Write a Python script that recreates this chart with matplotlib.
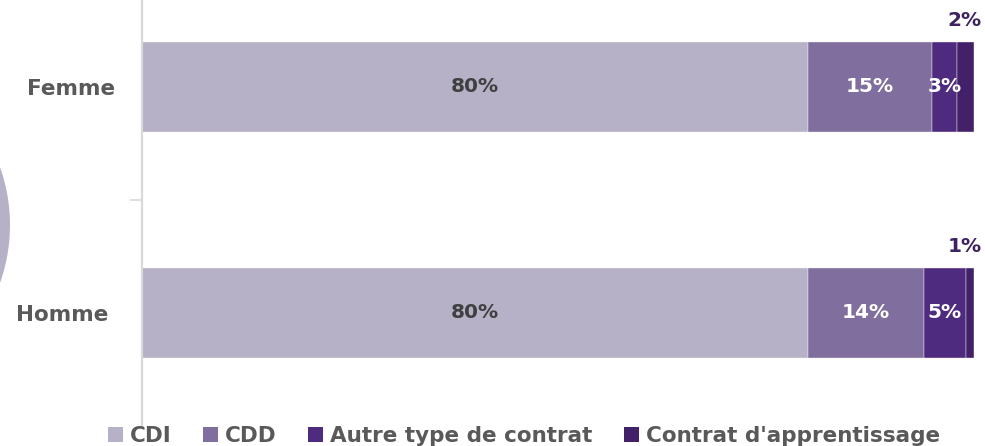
import matplotlib
matplotlib.use("Agg")
import matplotlib.pyplot as plt
from matplotlib.patches import Patch, Circle
from matplotlib.transforms import ScaledTranslation

# ---- data ----
categories = ["Femme", "Homme"]
series_names = ["CDI", "CDD", "Autre type de contrat", "Contrat d'apprentissage"]
cdi = [80, 80]
cdd = [15, 14]
autre = [3, 5]
apprentissage = [2, 1]

colors = ["#b6b1c7", "#806e9e", "#4f2b7f", "#432168"]
label_colors = ["#404040", "white", "white", "white"]
outside_color = "#3f2262"

plt.rcParams["font.family"] = ["DejaVu Sans"]
plt.rcParams["font.weight"] = "bold"

fig = plt.figure(figsize=(9.85, 4.46), dpi=100)
W, H = 985, 446
# axes: x 142..974 px, categories spaced 226 px, top cut off by the figure
ax = fig.add_axes([142 / W, 20 / H, 832 / W, 452 / H])

series = [cdi, cdd, autre, apprentissage]
ypos = list(range(len(categories)))
bar_h = 0.4
left = [0.0] * len(categories)
for name, vals, col, lcol in zip(series_names, series, colors, label_colors):
    ax.barh(ypos, vals, left=left, height=bar_h, color=col,
            edgecolor="#f2f0f6", linewidth=0.3)
    for y, v, l in zip(ypos, vals, left):
        cx = l + v / 2
        if v >= 3:
            ax.text(cx, y, f"{v}%", ha="center", va="center",
                    color=lcol, fontsize=14.5, fontweight="bold")
        else:
            # small segments: label above the bar, right-aligned near the edge
            ax.text(100.9, y - bar_h / 2 - 0.095, f"{v}%", ha="right",
                    va="center", color=outside_color, fontsize=14.5,
                    fontweight="bold")
    left = [a + b for a, b in zip(left, vals)]

ax.set_xlim(0, 100)
ax.set_ylim(1.5, -0.5)
ax.set_xticks([])
ax.set_yticks(ypos)
ax.set_yticklabels(categories, fontsize=15.5, fontweight="bold", color="#595959")
ax.tick_params(axis="y", which="major", length=0, pad=19)
ax.set_yticks([0.5], minor=True)
ax.tick_params(axis="y", which="minor", length=9, width=1.2, color="#d9d9d9")

# Homme label sits a bit further left in the original
labs = ax.get_yticklabels()
labs[1].set_transform(labs[1].get_transform() +
                      ScaledTranslation(-7 / 100, 0, fig.dpi_scale_trans))

for s in ["top", "right", "bottom"]:
    ax.spines[s].set_visible(False)
ax.spines["left"].set_color("#d9d9d9")
ax.spines["left"].set_linewidth(1.6)

# decorative circle on the left edge
fig.add_artist(Circle((-1.63, 2.21), 1.73, transform=fig.dpi_scale_trans,
                      facecolor="#b6b1c7", edgecolor="none", zorder=0))

handles = [Patch(facecolor=c, edgecolor="none") for c in colors]
fig.legend(handles, series_names, loc="center", bbox_to_anchor=(524 / W, 10 / H),
           ncol=4, frameon=False, handlelength=0.7,
           handleheight=0.7, handletextpad=0.33, columnspacing=1.45,
           borderpad=0, labelcolor="#595959",
           prop={"weight": "bold", "size": 15.5})

fig.savefig("out.png", dpi=100)
